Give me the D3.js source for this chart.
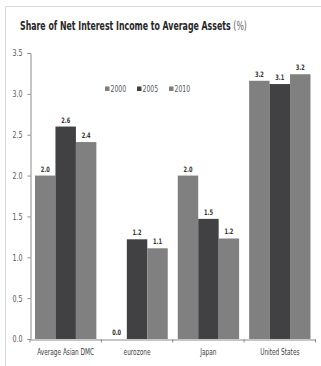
<!DOCTYPE html>
<html><head><meta charset="utf-8">
<script src="https://cdn.jsdelivr.net/npm/d3@7/dist/d3.min.js"></script>
<style>
html,body{margin:0;padding:0;background:#fff;}
svg{display:block;}
text{font-family:"Liberation Sans Narrow","DejaVu Sans Condensed","Liberation Sans",sans-serif;}
</style></head>
<body><svg id="c" width="321" height="366"></svg>
<script>
const categories = ["Average Asian DMC", "eurozone", "Japan", "United States"];
const seriesNames = ["2000", "2005", "2010"];
const v2000 = [2.0, 0.0, 2.0, 3.16];
const v2005 = [2.6, 1.22, 1.47, 3.12];
const v2010 = [2.41, 1.11, 1.23, 3.24];
const yTicks = [0, 0.5, 1.0, 1.5, 2.0, 2.5, 3.0, 3.5];
const colors = ["#808081", "#414143", "#808081"];

const series = [v2000, v2005, v2010];
const svg = d3.select("#c");

function squeeze(sel, f) {
  sel.each(function() {
    const w = this.getComputedTextLength();
    if (w > 0) d3.select(this).attr("textLength", w * f).attr("lengthAdjust", "spacingAndGlyphs");
  });
}

// frame lines
svg.append("line").attr("x1",5.5).attr("x2",321).attr("y1",6.5).attr("y2",6.5).attr("stroke","#d9d9d9").attr("stroke-width",1);
svg.append("line").attr("x1",5.5).attr("x2",5.5).attr("y1",6.5).attr("y2",366).attr("stroke","#d9d9d9").attr("stroke-width",1);

// title (scaled horizontally to fit a condensed look)
const tg = svg.append("g");
const title = tg.append("text").attr("x",0).attr("y",0).attr("font-size",12.5).attr("fill","#262626");
title.append("tspan").attr("font-weight","bold").text("Share of Net Interest Income to Average Assets ");
title.append("tspan").attr("fill","#666").text("(%)");
const tw = title.node().getComputedTextLength();
tg.attr("transform", `translate(20,30) scale(${227 / tw},1)`);

const x0 = 30, x1 = 315.5, yBase = 339, yTop = 53;
const x = d3.scaleBand().domain(categories).range([x0, x1]).padding(0);
const y = d3.scaleLinear().domain([0, 3.5]).range([yBase, yTop]);
const xs = d3.scaleBand().domain(seriesNames).range([0, x.bandwidth()]).paddingInner(0).paddingOuter(0.245);

// y axis
const gy = svg.append("g").attr("transform",`translate(${x0+0.5},0)`)
  .call(d3.axisLeft(y).tickValues(yTicks).tickFormat(d3.format(".1f")).tickSize(3).tickPadding(5));
gy.select(".domain").attr("stroke","#8c8c8c");
gy.selectAll(".tick line").attr("stroke","#8c8c8c");
gy.selectAll("text").attr("font-size",9).attr("fill","#595959").attr("font-family",null);
squeeze(gy.selectAll("text"), 0.78);

// bars
categories.forEach((c, i) => {
  series.forEach((s, j) => {
    const v = s[i];
    const bx = x(c) + xs(seriesNames[j]);
    svg.append("rect").attr("x", bx).attr("y", y(v)).attr("width", xs.bandwidth()).attr("height", yBase - y(v)).attr("fill", colors[j]);
    const t = svg.append("text").attr("x", bx + xs.bandwidth()/2).attr("y", y(v) - 4)
      .attr("text-anchor","middle").attr("font-size",7.5).attr("font-weight","bold").attr("fill","#333")
      .text(v.toFixed(1));
    squeeze(t, 0.75);
  });
});

// x axis
const gx = svg.append("g").attr("transform",`translate(0,${yBase+0.5})`)
  .call(d3.axisBottom(x).tickSize(0).tickPadding(9));
gx.select(".domain").attr("stroke","#8c8c8c");
gx.selectAll("text").attr("font-size",8.5).attr("fill","#404040").attr("font-family",null);
squeeze(gx.selectAll("text"), 0.76);
// category boundary ticks
const bounds = categories.map(c => x(c)).concat([x1]);
svg.append("g").selectAll("line").data(bounds).join("line")
  .attr("x1", d => d).attr("x2", d => d).attr("y1", yBase).attr("y2", yBase + 3.5)
  .attr("stroke","#8c8c8c");

// legend
const leg = svg.append("g");
const legX = [105, 137, 169];
seriesNames.forEach((n, j) => {
  leg.append("rect").attr("x", legX[j]).attr("y", 86.5).attr("width", 4.5).attr("height", 4.5).attr("fill", colors[j]);
  const t = leg.append("text").attr("x", legX[j] + 5.5).attr("y", 92).attr("font-size",8.5).attr("fill","#595959").text(n);
  squeeze(t, 0.8);
});
</script></body></html>
